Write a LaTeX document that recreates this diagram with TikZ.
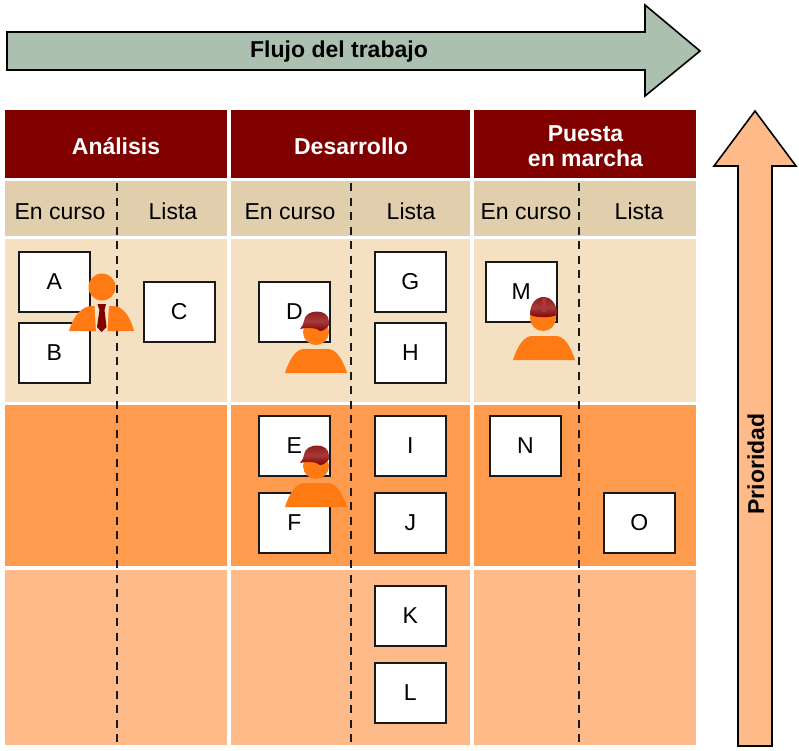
\documentclass[tikz,border=0pt]{standalone}
\usepackage{fontspec}
\setmainfont{Liberation Sans}
\definecolor{hdr}{HTML}{800000}
\definecolor{sub}{HTML}{E0CEAD}
\definecolor{rowa}{HTML}{F5E1C1}
\definecolor{rowb}{HTML}{FF9B4F}
\definecolor{rowc}{HTML}{FFBA8A}
\definecolor{green1}{HTML}{ABC0AF}
\definecolor{pers}{HTML}{FF7A12}
\definecolor{capd}{HTML}{8E1C1C}
\definecolor{capl}{HTML}{A63A3A}
\tikzset{
  x=1pt,y=-1pt,
  card/.style={draw=black!90,line width=1.6pt,fill=white,minimum width=71pt,minimum height=60pt,inner sep=0,font=\fontsize{23}{25}\selectfont,text=black,anchor=north west},
  headtxt/.style={text=white,font=\fontsize{23}{25.5}\bfseries\selectfont,align=center},
  subtxt/.style={text=black,font=\fontsize{23}{25}\selectfont},
  flowarrow/.style={draw=black,line width=1.6pt,line join=miter},
  sepline/.style={draw=black!90,line width=2pt,dash pattern=on 8pt off 6.5pt},
  personfill/.style={fill=pers,draw=none},
  capshade/.style={top color=capd,bottom color=hdr,middle color=capl}
}
\newcommand{\wbody}[2]{\fill[personfill,shift={(#1,#2)}] (-31,12) .. controls (-26,-4) and (-19,-12) .. (-12,-12) -- (12,-12) .. controls (19,-12) and (26,-4) .. (31,12) -- cycle;}
\newcommand{\wcap}[2]{\shade[capshade,shift={(#1,#2)}] (-16,-3) .. controls (-14,-6) and (-12,-8) .. (-12,-11) .. controls (-11,-18) and (-5,-20.5) .. (1,-20.5) .. controls (8,-20.5) and (13,-17) .. (13,-10) -- (13,-7) .. controls (10,-3) and (7,-1) .. (4,-1) .. controls (1,-4) and (-8,-5) .. (-16,-3) -- cycle;}
\begin{document}
\begin{tikzpicture}
\useasboundingbox (0,0) rectangle (799,750);
\fill[white] (0,0) rectangle (799,750);
% bands
\foreach \xa/\xb in {5/227,231/470,474/696}{
  \fill[hdr] (\xa,110) rectangle (\xb,178);
  \fill[sub] (\xa,181) rectangle (\xb,236);
  \fill[rowa] (\xa,239) rectangle (\xb,402);
  \fill[rowb] (\xa,405) rectangle (\xb,566);
  \fill[rowc] (\xa,570) rectangle (\xb,745);
}
\node[headtxt] (h1) at (116,146) {Análisis};
\node[headtxt] (h2) at (351,146) {Desarrollo};
\node[headtxt] (h3) at (585.5,146) {Puesta\\en marcha};
\node[subtxt] (s1) at (60,211.5) {En curso};
\node[subtxt] (s2) at (173,211.5) {Lista};
\node[subtxt] (s3) at (290,211.5) {En curso};
\node[subtxt] (s4) at (411,211.5) {Lista};
\node[subtxt] (s5) at (526,211.5) {En curso};
\node[subtxt] (s6) at (639,211.5) {Lista};
% dashed
\coordinate (d1a) at (116.5,183); \coordinate (d1b) at (116.5,746);
\coordinate (d2a) at (351,183); \coordinate (d2b) at (351,746);
\coordinate (d3a) at (579,183); \coordinate (d3b) at (579,746);
\draw[sepline] (d1a) -- (d1b);
\draw[sepline] (d2a) -- (d2b);
\draw[sepline] (d3a) -- (d3b);
% cards
\foreach \n/\x/\y in {A/18/251,B/18/322,C/143/281,D/258/281,G/374/251,H/374/322,M/485/261,E/258/415,I/374/415,N/489/415,F/258/492,J/374/492,O/603/492,K/374/585,L/374/662}{
  \node[card] (\n) at (\x,\y) {\n};
}
% arrows
\draw[flowarrow,fill=green1] (7,32) -- (645,32) -- (645,5) -- (700,51) -- (645,96) -- (645,70) -- (7,70) -- cycle;
\node[text=black,font=\fontsize{23}{25}\bfseries\selectfont] (flujo) at (339,52) {Flujo del trabajo};
\draw[flowarrow,fill=rowc] (738,746) -- (738,166) -- (714,166) -- (755,111) -- (796,166) -- (772,166) -- (772,746) -- cycle;
\node[text=black,rotate=90,font=\fontsize{23}{25}\bfseries\selectfont] (prio) at (756,464) {Prioridad};
% manager
\fill[pers] (102,287) circle (13.5);
\fill[personfill] (69,331) .. controls (73,316) and (82,306) .. (92,306) -- (113,306) .. controls (123,306) and (130,316) .. (134,331) -- cycle;
\fill[rowa] (94.5,305) -- (109,305) -- (107.5,331) -- (96,331) -- cycle;
\fill[hdr] (97.5,304) -- (106,304) -- (104.5,310) -- (106.5,327) -- (101.5,332) -- (97,327) -- (99.5,310) -- cycle;
% worker D
\wbody{316}{361}
\fill[pers] (316,332) circle (13);
\wcap{316}{332}
% worker E
\wbody{316}{495}
\fill[pers] (316,466) circle (13);
\wcap{316}{466}
% worker M
\wbody{544}{348}
\fill[pers] (543,318) circle (13);
\shade[capshade] (530,314) .. controls (530,304) and (536,297) .. (543.5,297) .. controls (551,297) and (557,304) .. (557,314) -- (557,315) .. controls (550,318) and (537,318) .. (530,315) -- cycle;
\fill[capl] (541.5,297.5) -- (545.5,297.5) -- (545.5,312) -- (541.5,312) -- cycle;
\end{tikzpicture}
\end{document}
